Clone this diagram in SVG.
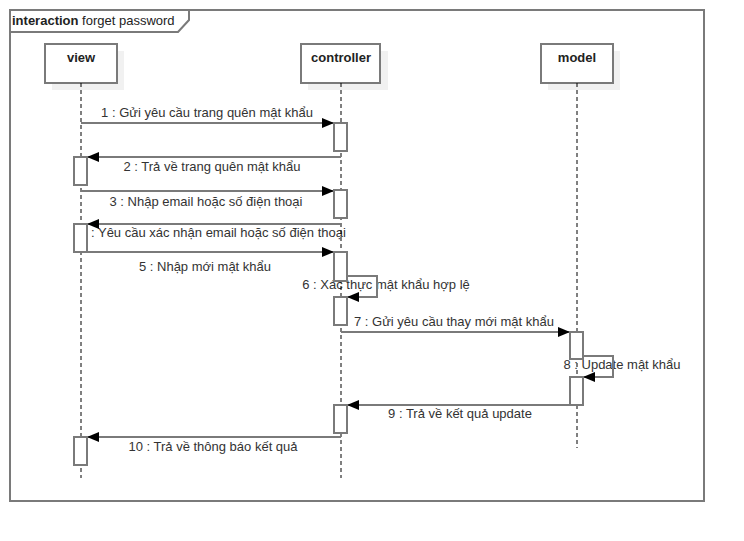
<svg xmlns="http://www.w3.org/2000/svg" width="744" height="541" viewBox="0 0 744 541">
  <style>
    .frame { fill: none; stroke: #7a7a7a; stroke-width: 2; }
    .head { fill: #ffffff; stroke: #7a7a7a; stroke-width: 2; }
    .shadow { fill: #f1f1f1; stroke: none; }
    .name { font-family: "Liberation Sans", Arial, sans-serif; font-size: 13px; font-weight: bold; fill: #222; text-anchor: middle; }
    .life { stroke: #000; stroke-width: 1; stroke-dasharray: 4 3; fill: none; }
    .act { fill: #ffffff; stroke: #7a7a7a; stroke-width: 2; }
    .msg { fill: none; stroke: #7a7a7a; stroke-width: 2; }
    .lbl { font-family: "Liberation Sans", Arial, sans-serif; font-size: 13px; fill: #333; text-anchor: middle; }
    .title { font-family: "Liberation Sans", Arial, sans-serif; font-size: 13px; fill: #222; }
  </style>
  <defs>
    <marker id="arrow" viewBox="0 0 12 10" refX="12" refY="5" markerWidth="12" markerHeight="10" markerUnits="userSpaceOnUse" orient="auto">
      <path d="M0,0 L12,5 L0,10 Z" fill="#000"/>
    </marker>
  </defs>
  <rect width="744" height="541" fill="#ffffff"/>

  <!-- interaction frame -->
  <g id="frame">
    <rect class="frame" x="10" y="10" width="694" height="491"/>
    <path class="frame" d="M10,32 L178,32 L189,20 L189,10"/>
    <text class="title" x="12" y="25"><tspan font-weight="bold">interaction</tspan> forget password</text>
  </g>

  <!-- message labels sit beneath lifelines and activation bars -->
  <g id="labels">
    <text class="lbl" x="207" y="117">1 : Gửi yêu cầu trang quên mật khẩu</text>
    <text class="lbl" x="212" y="171">2 : Trả về trang quên mật khẩu</text>
    <text class="lbl" x="206" y="206">3 : Nhập email hoặc số điện thoại</text>
    <text class="lbl" x="213" y="237">4 : Yêu cầu xác nhận email hoặc số điện thoại</text>
    <text class="lbl" x="205" y="271">5 : Nhập mới mật khẩu</text>
    <text class="lbl" x="386" y="289">6 : Xác thực mật khẩu hợp lệ</text>
    <text class="lbl" x="454" y="326">7 : Gửi yêu cầu thay mới mật khẩu</text>
    <text class="lbl" x="622" y="369">8 : Update mật khẩu</text>
    <text class="lbl" x="460" y="418">9 : Trả về kết quả update</text>
    <text class="lbl" x="213" y="451">10 : Trả về thông báo kết quả</text>
  </g>

  <!-- lifelines -->
  <g id="view">
    <rect class="shadow" x="52" y="51" width="72" height="39"/>
    <rect class="head" x="45" y="44" width="72" height="39"/>
    <text class="name" x="81" y="62">view</text>
    <line class="life" x1="81" y1="83" x2="81" y2="478"/>
  </g>
  <g id="controller">
    <rect class="shadow" x="308" y="51" width="80" height="39"/>
    <rect class="head" x="301" y="44" width="79" height="39"/>
    <text class="name" x="341" y="62">controller</text>
    <line class="life" x1="341" y1="83" x2="341" y2="478"/>
  </g>
  <g id="model">
    <rect class="shadow" x="548" y="51" width="72" height="39"/>
    <rect class="head" x="541" y="44" width="72" height="39"/>
    <text class="name" x="577" y="62">model</text>
    <line class="life" x1="577" y1="83" x2="577" y2="448"/>
  </g>

  <!-- messages -->
  <g id="connectors">
    <line class="msg" x1="81" y1="123" x2="334" y2="123" marker-end="url(#arrow)"/>
    <line class="msg" x1="341" y1="157" x2="87" y2="157" marker-end="url(#arrow)"/>
    <line class="msg" x1="81" y1="191" x2="334" y2="191" marker-end="url(#arrow)"/>
    <line class="msg" x1="341" y1="224" x2="87" y2="224" marker-end="url(#arrow)"/>
    <line class="msg" x1="81" y1="252" x2="334" y2="252" marker-end="url(#arrow)"/>
    <path class="msg" d="M347,276 L377,276 L377,297 L347,297" marker-end="url(#arrow)"/>
    <line class="msg" x1="341" y1="332" x2="570" y2="332" marker-end="url(#arrow)"/>
    <path class="msg" d="M583,356 L613,356 L613,377 L583,377" marker-end="url(#arrow)"/>
    <line class="msg" x1="577" y1="405" x2="347" y2="405" marker-end="url(#arrow)"/>
    <line class="msg" x1="341" y1="437" x2="87" y2="437" marker-end="url(#arrow)"/>
  </g>

  <!-- activation bars -->
  <g id="activations">
    <rect class="act" x="334" y="123" width="13" height="28"/>
    <rect class="act" x="74" y="157" width="13" height="28"/>
    <rect class="act" x="334" y="190" width="13" height="28"/>
    <rect class="act" x="74" y="224" width="13" height="28"/>
    <rect class="act" x="334" y="252" width="13" height="29"/>
    <rect class="act" x="334" y="297" width="13" height="28"/>
    <rect class="act" x="570" y="332" width="13" height="27"/>
    <rect class="act" x="570" y="377" width="13" height="28"/>
    <rect class="act" x="334" y="405" width="13" height="28"/>
    <rect class="act" x="74" y="437" width="13" height="28"/>
  </g>
</svg>
